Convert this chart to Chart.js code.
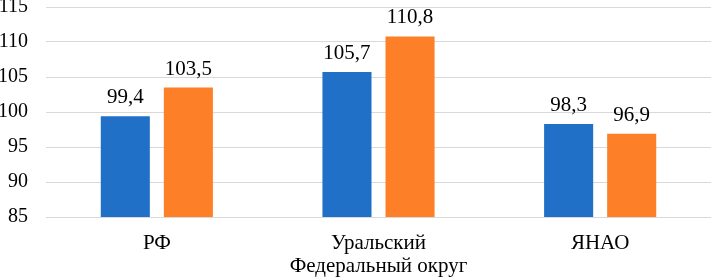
<!DOCTYPE html>
<html><head><meta charset="utf-8">
<script src="https://cdn.jsdelivr.net/npm/chart.js@4/dist/chart.umd.min.js"></script>
<style>html,body{margin:0;padding:0;background:#fff}#wrap{width:711px;height:278px}</style>
</head><body><div id="wrap"><canvas id="c"></canvas></div>
<script>
const categories = [['РФ'], ['Уральский', 'Федеральный округ'], ['ЯНАО']];
const series1 = [99.4, 105.7, 98.3];
const series2 = [103.5, 110.8, 96.9];
const yMin = 85, yMax = 115, yStep = 5;

const FONT = "'Liberation Serif', 'Times New Roman', serif";

const valueLabels = {
  id: 'valueLabels',
  afterDatasetsDraw(chart) {
    const ctx = chart.ctx;
    ctx.save();
    ctx.font = '21px ' + FONT;
    ctx.fillStyle = '#000';
    ctx.textAlign = 'center';
    ctx.textBaseline = 'alphabetic';
    chart.data.datasets.forEach((ds, di) => {
      chart.getDatasetMeta(di).data.forEach((bar, i) => {
        const txt = ds.data[i].toFixed(1).replace('.', ',');
        ctx.fillText(txt, bar.x, bar.y - 13);
      });
    });
    ctx.restore();
  }
};

new Chart(document.getElementById('c'), {
  type: 'bar',
  data: {
    labels: categories,
    datasets: [
      { data: series1, backgroundColor: '#1f70c6', categoryPercentage: 0.569, barPercentage: 0.778 },
      { data: series2, backgroundColor: '#fd7f28', categoryPercentage: 0.569, barPercentage: 0.778 }
    ]
  },
  options: {
    responsive: true,
    maintainAspectRatio: false,
    animation: false,
    layout: { padding: 0 },
    plugins: { legend: { display: false }, tooltip: { enabled: false } },
    scales: {
      x: {
        grid: { display: false },
        border: { display: false },
        ticks: { color: '#000', font: { family: FONT, size: 21, lineHeight: 1.1 }, padding: 7, maxRotation: 0, autoSkip: false },
        afterFit(s) { s.height = 61; s.paddingLeft = 0; s.paddingRight = 0; }
      },
      y: {
        min: yMin, max: yMax,
        grid: { color: '#d9d9d9', lineWidth: 1, drawTicks: false },
        border: { display: false },
        ticks: { stepSize: yStep, color: '#000', font: { family: FONT, size: 20 }, padding: 18 },
        afterFit(s) { s.width = 46; s.paddingTop = 7; s.paddingBottom = 0; }
      }
    }
  },
  plugins: [valueLabels]
});
</script>
</body></html>
